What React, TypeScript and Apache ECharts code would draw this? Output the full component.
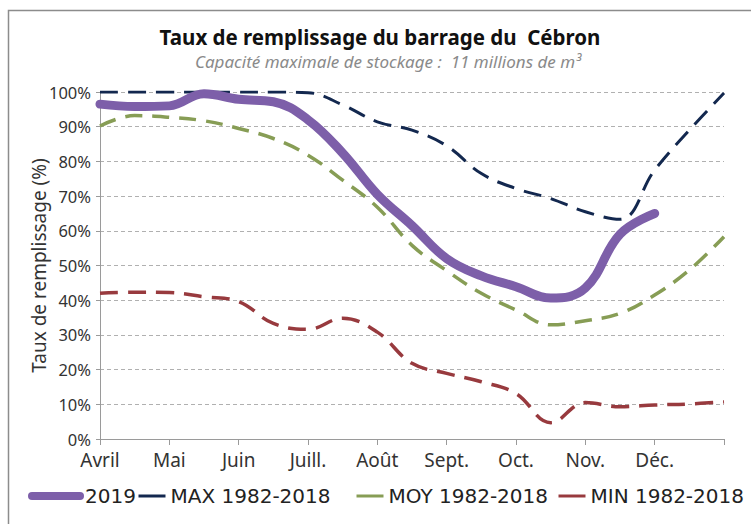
import React, { useEffect, useRef } from "react";
import * as echarts from "echarts";

// Half-month positions (0 = début avril, 9 = fin décembre)
const positions = [0, 0.5, 1, 1.5, 2, 2.5, 3, 3.5, 4, 4.5, 5, 5.5, 6, 6.5, 7, 7.5, 8, 8.5, 9];
const monthLabels = ["Avril", "Mai", "Juin", "Juill.", "Août", "Sept.", "Oct.", "Nov.", "Déc.", ""];
const yTicks = [0, 10, 20, 30, 40, 50, 60, 70, 80, 90, 100];

const values2019 = [96.5, 95.8, 96, 99.5, 97.9, 97.2, 92, 82.4, 70.5, 61.5, 52, 47, 43.9, 40.6, 43.5, 59, 65, null, null];
const valuesMax = [100, 100, 100, 100, 100, 100, 99.8, 96.3, 91.4, 89, 84.5, 76.5, 72.2, 69.3, 65.5, 63.3, 77.5, 89, 99.7];
const valuesMoy = [90.2, 93.2, 92.7, 91.7, 89.5, 86.6, 81.8, 74.6, 66.8, 55.8, 48.5, 42, 37.2, 32.9, 34.1, 36.2, 41.5, 48.7, 58.3];
const valuesMin = [42, 42.3, 42.2, 41, 39.6, 33.3, 31.6, 34.8, 30.8, 21.8, 18.9, 16.5, 13.1, 4.7, 10.5, 9.3, 9.8, 10.1, 10.7];

const seriesNames = ["2019", "MAX 1982-2018", "MOY 1982-2018", "MIN 1982-2018"];
const colors = ["#7d5fa9", "#13284f", "#879d55", "#983a3e"];

const pairs = (vals: (number | null)[]) =>
  positions.map((p, i) => (vals[i] === null ? [p, null] : [p, vals[i]]));

export default function App() {
  const ref = useRef<HTMLDivElement>(null);
  useEffect(() => {
    if (!ref.current) return;
    const chart = echarts.init(ref.current, null, { renderer: "svg" });
    const font = "Noto Sans";
    const legendCommon = {
      top: 486,
      itemHeight: 10,
      padding: 0,
      textStyle: { fontFamily: "DejaVu Sans", fontSize: 20, color: "#222" },
      itemStyle: { opacity: 0 },
      selectedMode: false,
    };
    chart.setOption({
      animation: false,
      backgroundColor: "#fff",
      title: [
        {
          text: "Taux de remplissage du barrage du  Cébron",
          left: 375,
          textAlign: "center",
          top: 21,
          textStyle: { fontFamily: font, fontSize: 20.5, fontWeight: "bold", color: "#111" },
        },
        {
          text: "Capacité maximale de stockage :  11 millions de m³",
          left: 383,
          textAlign: "center",
          top: 48,
          textStyle: { fontFamily: font, fontSize: 17, fontStyle: "italic", fontWeight: "normal", color: "#8a8a8a" },
        },
      ],
      graphic: [
        {
          type: "rect",
          shape: { x: 8.5, y: 10.5, width: 800, height: 600 },
          style: { fill: "none", stroke: "#8c8c8c", lineWidth: 1.5 },
          silent: true,
        },
      ],
      legend: [
        { ...legendCommon, left: 28, itemWidth: 48, itemGap: 0, data: ["2019"], lineStyle: { width: 8, cap: "round" } },
        { ...legendCommon, left: 137, itemWidth: 27, itemGap: 8, data: ["MAX 1982-2018"], lineStyle: { type: "solid", width: 3 } },
        { ...legendCommon, left: 355, itemWidth: 27, itemGap: 8, data: ["MOY 1982-2018"], lineStyle: { type: "solid", width: 3 } },
        { ...legendCommon, left: 557, itemWidth: 27, itemGap: 8, data: ["MIN 1982-2018"], lineStyle: { type: "solid", width: 3 } },
      ],
      grid: { left: 100, right: 27, top: 92, bottom: 85, containLabel: false },
      xAxis: {
        type: "value",
        min: 0,
        max: 9,
        interval: 1,
        axisLine: { show: true, lineStyle: { color: "#9a9a9a", width: 1 } },
        axisTick: { show: true, length: 6, lineStyle: { color: "#9a9a9a" } },
        axisLabel: {
          formatter: (v: number) => monthLabels[Math.round(v)] ?? "",
          fontFamily: font,
          fontSize: 19,
          color: "#333",
          margin: 11,
          showMaxLabel: true,
        },
        splitLine: { show: false },
      },
      yAxis: {
        type: "value",
        min: yTicks[0],
        max: yTicks[yTicks.length - 1],
        interval: 10,
        name: "Taux de remplissage (%)",
        nameLocation: "middle",
        nameGap: 52,
        nameMoveOverlap: false,
        nameTextStyle: { fontFamily: font, fontSize: 19, color: "#333" },
        axisLine: { show: true, lineStyle: { color: "#9a9a9a", width: 1 } },
        axisTick: { show: true, length: 4, lineStyle: { color: "#9a9a9a" } },
        axisLabel: { formatter: "{value}%", fontFamily: font, fontSize: 16.5, color: "#333", margin: 9 },
        splitLine: { show: true, lineStyle: { color: "#b0b0b0", type: [4, 3], width: 1 } },
      },
      series: [
        {
          name: seriesNames[1],
          type: "line",
          data: pairs(valuesMax),
          smooth: 0.4,
          symbol: "none",
          color: colors[1],
          lineStyle: { color: colors[1], width: 3, type: [18, 10] },
          z: 3,
        },
        {
          name: seriesNames[2],
          type: "line",
          data: pairs(valuesMoy),
          smooth: 0.4,
          symbol: "none",
          color: colors[2],
          lineStyle: { color: colors[2], width: 3.5, type: [17, 10] },
          z: 3,
        },
        {
          name: seriesNames[3],
          type: "line",
          data: pairs(valuesMin),
          smooth: 0.4,
          symbol: "none",
          color: colors[3],
          lineStyle: { color: colors[3], width: 3.5, type: [18, 10] },
          z: 3,
        },
        {
          name: seriesNames[0],
          type: "line",
          data: pairs(values2019),
          smooth: 0.4,
          symbol: "none",
          connectNulls: false,
          color: colors[0],
          lineStyle: { color: colors[0], width: 9, cap: "round", join: "round" },
          z: 4,
        },
      ],
    });
    return () => chart.dispose();
  }, []);
  return <div ref={ref} style={{ position: "fixed", left: 0, top: 0, width: 751, height: 524 }} />;
}
